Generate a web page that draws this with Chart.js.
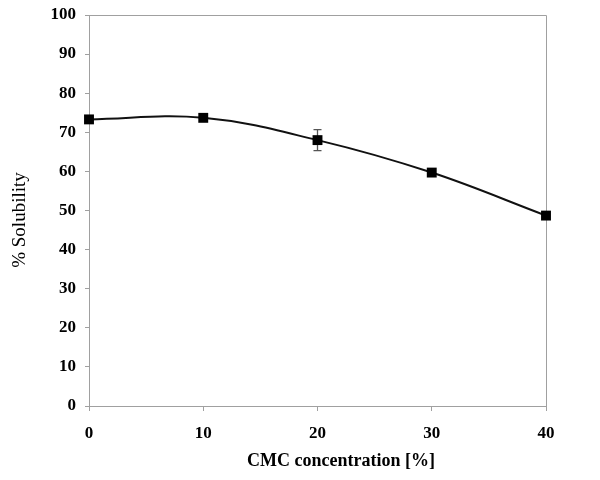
<!DOCTYPE html>
<html>
<head>
<meta charset="utf-8">
<script src="https://cdn.jsdelivr.net/npm/chart.js@4"></script>
<style>
	html, body { margin: 0; padding: 0; background: #fff; }
	#wrap { width: 600px; height: 480px; }
</style>
</head>
<body>
<div id="wrap"><canvas id="cv" width="600" height="480"></canvas></div>
<script>
// CMC concentration [%]
const concentration = [0, 10, 20, 30, 40]
// % solubility
const solubility = [73.3, 73.7, 68.0, 59.7, 48.7]
const solubilityErr = [0.3, 0.4, 2.7, 0.9, 0.3]
const xTicks = [0, 10, 20, 30, 40]
const yTicks = [0, 10, 20, 30, 40, 50, 60, 70, 80, 90, 100]
const xTitle = 'CMC concentration [%]'
const yTitle = '% Solubility'

const points = concentration.map((c, i) => ({ x: c, y: solubility[i] }))

// error bars, plot box and the two axis titles
const extras = {
	id: 'extras',
	beforeDatasetsDraw(chart) {
		const ctx = chart.ctx
		const a = chart.chartArea
		ctx.save()
		ctx.strokeStyle = '#a0a0a0'
		ctx.lineWidth = 1
		ctx.beginPath()
		ctx.moveTo(a.left, a.top + 0.5)
		ctx.lineTo(a.right + 0.5, a.top + 0.5)
		ctx.lineTo(a.right + 0.5, a.bottom)
		ctx.stroke()

		const xs = chart.scales.x
		const ys = chart.scales.y
		ctx.strokeStyle = '#555'
		ctx.lineWidth = 1.3
		for (let i = 0; i < concentration.length; i++) {
			const px = xs.getPixelForValue(concentration[i])
			const top = ys.getPixelForValue(solubility[i] + solubilityErr[i])
			const bot = ys.getPixelForValue(solubility[i] - solubilityErr[i])
			ctx.beginPath()
			ctx.moveTo(px, top)
			ctx.lineTo(px, bot)
			ctx.moveTo(px - 4, top)
			ctx.lineTo(px + 4, top)
			ctx.moveTo(px - 4, bot)
			ctx.lineTo(px + 4, bot)
			ctx.stroke()
		}

		ctx.fillStyle = '#000'
		ctx.textAlign = 'center'
		ctx.textBaseline = 'middle'
		ctx.font = 'bold 18px "Liberation Serif"'
		ctx.fillText(xTitle, 341, 461)
		ctx.translate(20, 220)
		ctx.rotate(-Math.PI / 2)
		ctx.font = '19px "Liberation Serif"'
		ctx.fillText(yTitle, 0, 0)
		ctx.restore()
	}
}

new Chart(document.getElementById('cv'), {
	type: 'scatter',
	data: {
		datasets: [{
			data: points,
			showLine: true,
			borderColor: '#111',
			borderWidth: 2,
			tension: 0.38,
			pointStyle: 'rect',
			pointRadius: 7,
			pointBackgroundColor: '#000',
			pointBorderColor: '#000',
			pointBorderWidth: 0,
			clip: false
		}]
	},
	options: {
		responsive: false,
		animation: false,
		layout: { padding: { left: 6, right: 54, top: 15, bottom: 6 } },
		plugins: {
			legend: { display: false },
			tooltip: { enabled: false }
		},
		scales: {
			x: {
				type: 'linear',
				min: 0,
				max: 40,
				afterBuildTicks: (s) => { s.ticks = xTicks.map(v => ({ value: v })) },
				afterFit: (s) => { s.height = 68; s.paddingLeft = 0; s.paddingRight = 0 },
				border: { color: '#a0a0a0', width: 1 },
				grid: { drawOnChartArea: false, color: '#a0a0a0', tickLength: 5 },
				ticks: {
					color: '#000',
					padding: 12,
					font: { family: 'Liberation Serif', size: 17, weight: 'bold' }
				}
			},
			y: {
				min: 0,
				max: 100,
				afterBuildTicks: (s) => { s.ticks = yTicks.map(v => ({ value: v })) },
				afterFit: (s) => { s.width = 83; s.paddingTop = 0; s.paddingBottom = 0 },
				border: { color: '#a0a0a0', width: 1 },
				grid: { drawOnChartArea: false, color: '#a0a0a0', tickLength: 4 },
				ticks: {
					color: '#000',
					padding: 9,
					font: { family: 'Liberation Serif', size: 17, weight: 'bold' }
				}
			}
		}
	},
	plugins: [extras]
})
</script>
</body>
</html>
